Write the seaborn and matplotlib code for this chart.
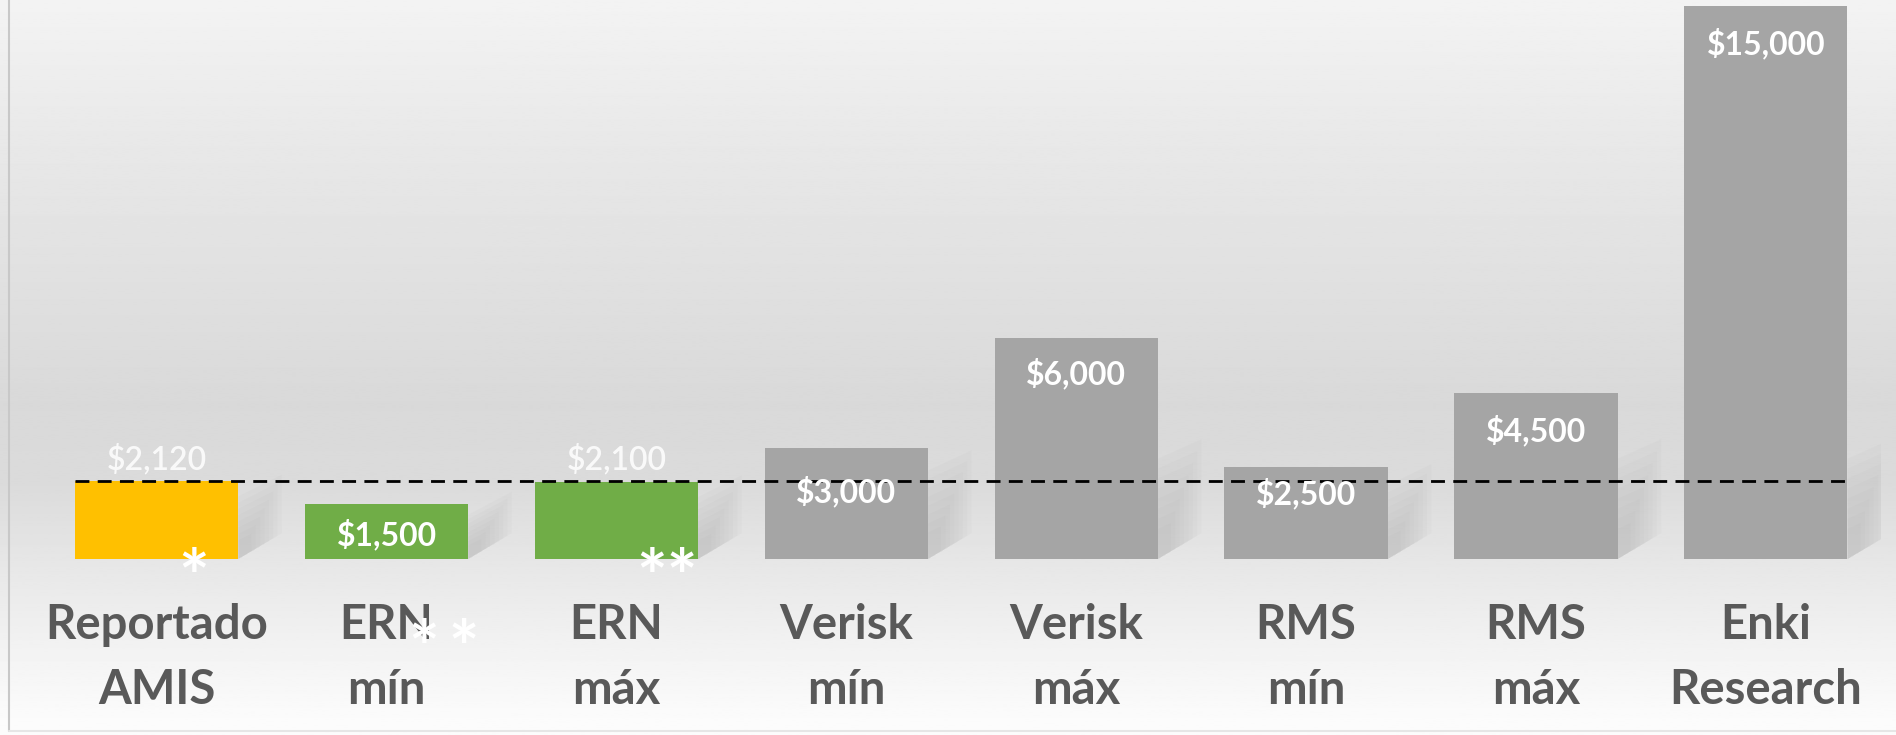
import numpy as np
import pandas as pd
import matplotlib.pyplot as plt
import seaborn as sns

# data
categories = ['Reportado\nAMIS', 'ERN\nmín', 'ERN\nmáx', 'Verisk\nmín', 'Verisk\nmáx',
              'RMS\nmín', 'RMS\nmáx', 'Enki\nResearch']
values = [2120, 1500, 2100, 3000, 6000, 2500, 4500, 15000]
value_labels = ['$2,120', '$1,500', '$2,100', '$3,000', '$6,000', '$2,500', '$4,500', '$15,000']
reference_value = 2120

bar_colors = ['#FFC000', '#70AD47', '#70AD47', '#A5A5A5', '#A5A5A5', '#A5A5A5', '#A5A5A5', '#A5A5A5']
label_inside = [False, True, False, True, True, True, True, True]
label_offset = [15, -22, 16, -31, -26, -19, -27, -27]  # points from bar top

df = pd.DataFrame({'cat': categories, 'val': values})

sns.set_theme(style='white')
plt.rcParams['font.family'] = ['Lato', 'DejaVu Sans']

fig = plt.figure(figsize=(18.96, 7.35), dpi=100)

# background gradient (Excel style)
bg = fig.add_axes([0, 0, 1, 1], zorder=0)
ys = np.linspace(0, 1, 400)
stops_y = [0.0, 0.20, 0.55, 0.66, 0.78, 0.90, 0.975, 1.0]
stops_c = [243, 232, 217, 219, 232, 244, 251, 252]
grad = np.interp(ys, stops_y, stops_c)[:, None] / 255.0
bg.imshow(np.repeat(grad, 2, axis=1), aspect='auto', cmap='gray', vmin=0, vmax=1,
          extent=[0, 1, 1, 0])
bg.set_xlim(0, 1)
bg.set_ylim(1, 0)
bg.axis('off')
bg.plot([0.0045, 0.0045], [0, 0.995], color='#c8c8c8', lw=1.5)
bg.plot([0.0045, 1], [0.995, 0.995], color='#e6e6e6', lw=1.5)

ax = fig.add_axes([0.022, 0.2395, 0.970, 0.7605], zorder=1)
ax.patch.set_alpha(0)

sns.barplot(data=df, x='cat', y='val', hue='cat', palette=bar_colors, legend=False,
            width=0.71, saturation=1, linewidth=0, ax=ax, zorder=3)

ax.set_ylim(0, 15160)
ax.set_xlim(-0.5, len(categories) - 0.5)

# soft shadows to the lower right of each bar
for i, v in enumerate(values):
    xr = i + 0.355
    hs = min(v, 3400)
    for k in range(8):
        s = 1 - k * 0.1
        dx = 0.19 * s
        ax.fill([xr, xr + dx, xr + dx, xr],
                [0, 700 * s, 700 * s + hs * 0.75 * s, hs * 0.8 * s],
                color='#8c8c8c', alpha=0.04, lw=0, zorder=2)

# dashed reference line at the AMIS value
ax.plot([-0.355, len(categories) - 1 + 0.355], [reference_value, reference_value],
        color='black', lw=2, ls=(0, (5, 3)), zorder=5)

# value labels
for i, (v, t) in enumerate(zip(values, value_labels)):
    if label_inside[i]:
        ax.annotate(t, xy=(i, v), xytext=(0, label_offset[i]), textcoords='offset points',
                    ha='center', va='center', color='white', fontsize=23, fontweight='bold',
                    zorder=6)
    else:
        ax.annotate(t, xy=(i, v), xytext=(0, label_offset[i]), textcoords='offset points',
                    ha='center', va='center', color='white', alpha=0.85, fontsize=23,
                    fontweight='semibold', zorder=6)

# asterisks
star = dict(textcoords='offset points', ha='center', va='baseline', color='white',
            fontsize=52, fontweight='bold', zorder=6, annotation_clip=False)
ax.annotate('*', xy=(0.16, 0), xytext=(0, -32), **star)
ax.annotate('**', xy=(2.22, 0), xytext=(0, -32), **star)
ax.annotate('*\u2009*', xy=(1.25, 0), xytext=(0, -83), **star)

ax.set_xticks(range(len(categories)))
ax.set_xticklabels(categories, fontsize=34, fontweight='bold', color='#595959',
                   linespacing=1.58)
ax.tick_params(axis='x', length=0, pad=32)
ax.set_yticks([])
ax.set_xlabel('')
ax.set_ylabel('')
sns.despine(ax=ax, left=True, bottom=True)

fig.savefig('out.png', dpi=100)
